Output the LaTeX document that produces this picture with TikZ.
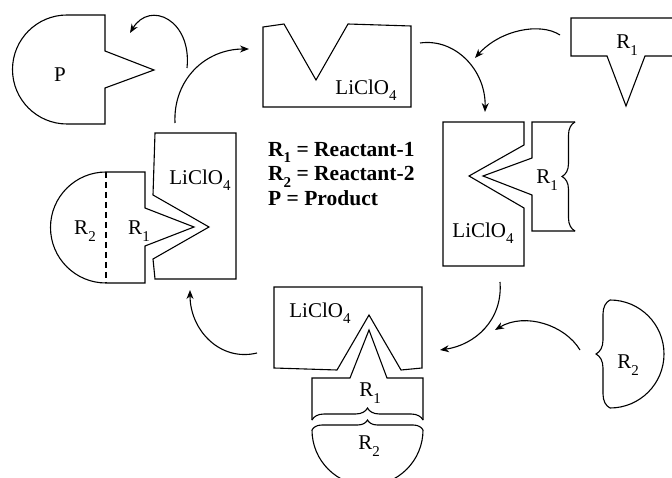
\documentclass[tikz,border=0pt]{standalone}
\usepackage{fontspec}
\setmainfont{Liberation Serif}
\usetikzlibrary{arrows.meta,decorations.pathreplacing}
\newcommand\sbs[1]{\raisebox{-0.3em}{\fontsize{15}{15}\selectfont #1}}
\begin{document}
\begin{tikzpicture}[x=1pt,y=-1pt,
  part/.style={line width=1.1pt, line join=miter},
  arr/.style={line width=1.1pt,-{Stealth[length=9pt,width=7pt]}},
  lbl/.style={font=\fontsize{21}{24}\selectfont, inner sep=0pt},
  brc/.style={line width=1.1pt,decorate,decoration={brace,amplitude=#1}}
]
\useasboundingbox (0,0) rectangle (672,478);
\clip (0,0) rectangle (672,478);

% Product P
\draw[part] (67,124) arc[start angle=-90,end angle=-270,radius=54.5pt] -- (105,15) -- (105,51) -- (154,70) -- (105,88) -- (105,124) -- cycle;
\node[lbl] (pl) at (60,75) {P};

% top LiClO4
\draw[part] (263,27) -- (284,24) -- (316,80) -- (348,24) -- (411,26) -- (411,107) -- (263,107) -- cycle;
\node[lbl] (cat1) at (366,90) {LiClO\sbs{4}};

% top-right R1
\draw[part] (690,18) -- (571,18) -- (571,56) -- (607,56) -- (626,106) -- (645,56) -- (690,56);
\node[lbl] (r1a) at (627,45) {R\sbs{1}};

% right LiClO4 with R1
\draw[part] (443,122) -- (524,122) -- (524,145) -- (469,176) -- (524,208) -- (524,266) -- (443,266) -- cycle;
\node[lbl] (cat2) at (483,233) {LiClO\sbs{4}};
\draw[part] (575,122) -- (532,122) -- (532,158) -- (483,176) -- (532,195) -- (532,231) -- (575,231);
\draw[brc=13pt] (575,231) -- (575,122);
\node[lbl] (r1b) at (547,180) {R\sbs{1}};

% right R2
\draw[part] (610,300) arc[start angle=90,end angle=-90,radius=54pt];
\draw[brc=14pt] (610,408) -- (610,300);
\node[lbl] (r2a) at (628,365) {R\sbs{2}};

% bottom LiClO4 with R1 and R2
\draw[part] (274,287) -- (422,287) -- (422,368) -- (401,370) -- (369,315) -- (337,370) -- (274,368) -- cycle;
\node[lbl] (cat3) at (320,313) {LiClO\sbs{4}};
\draw[part] (312,420) -- (312,378) -- (350,378) -- (369,330) -- (387,378) -- (423,378) -- (423,420);
\draw[brc=12pt] (312,420) -- (423,420);
\node[lbl] (r1c) at (370,393) {R\sbs{1}};
\draw[brc=10pt] (312,430) -- (423,430);
\draw[part] (423,430) arc[start angle=0,end angle=-180,radius=55.5pt];
\node[lbl] (r2b) at (369,446) {R\sbs{2}};

% left LiClO4 with R1R2
\draw[part] (155,133) -- (236,133) -- (236,279) -- (155,279) -- (153,259) -- (209,227) -- (153,195) -- cycle;
\node[lbl] (cat4) at (200,180) {LiClO\sbs{4}};
\draw[part] (106,283) arc[start angle=-90,end angle=-270,radius=55.5pt] -- (145,172) -- (145,208) -- (194,227) -- (145,246) -- (145,283) -- cycle;
\draw[part,dashed,dash pattern=on 6pt off 4pt] (106,172) -- (106,283);
\node[lbl] (r2c) at (85,231) {R\sbs{2}};
\node[lbl] (r1d) at (139,231) {R\sbs{1}};

% legend
\node[lbl,font=\fontsize{21.5}{24.5}\selectfont\bfseries,align=left,anchor=west] (legend) at (268,174)
  {R\sbs{1} = Reactant-1\\R\sbs{2} = Reactant-2\\P = Product};

% arrow end points
\coordinate (aS) at (187,68);  \coordinate (aE) at (130,33);
\coordinate (bS) at (175,123); \coordinate (bE) at (249,49);
\coordinate (cS) at (420,43);  \coordinate (cE) at (485,112);
\coordinate (dS) at (560,35);  \coordinate (dE) at (475,58);
\coordinate (eS) at (500,282); \coordinate (eE) at (440,350);
\coordinate (fS) at (580,350); \coordinate (fE) at (495,330);
\coordinate (gS) at (257,353); \coordinate (gE) at (190,290);

\draw[arr] (aS) .. controls (192,20) and (150,0) .. (aE);
\draw[arr] (bS) .. controls (173,80) and (205,49) .. (bE);
\draw[arr] (cS) .. controls (455,38) and (486,70) .. (cE);
\draw[arr] (dS) .. controls (540,22) and (500,30) .. (dE);
\draw[arr] (eS) .. controls (503,320) and (475,345) .. (eE);
\draw[arr] (fS) .. controls (565,325) and (525,312) .. (fE);
\draw[arr] (gS) .. controls (220,362) and (190,330) .. (gE);
\end{tikzpicture}
\end{document}
